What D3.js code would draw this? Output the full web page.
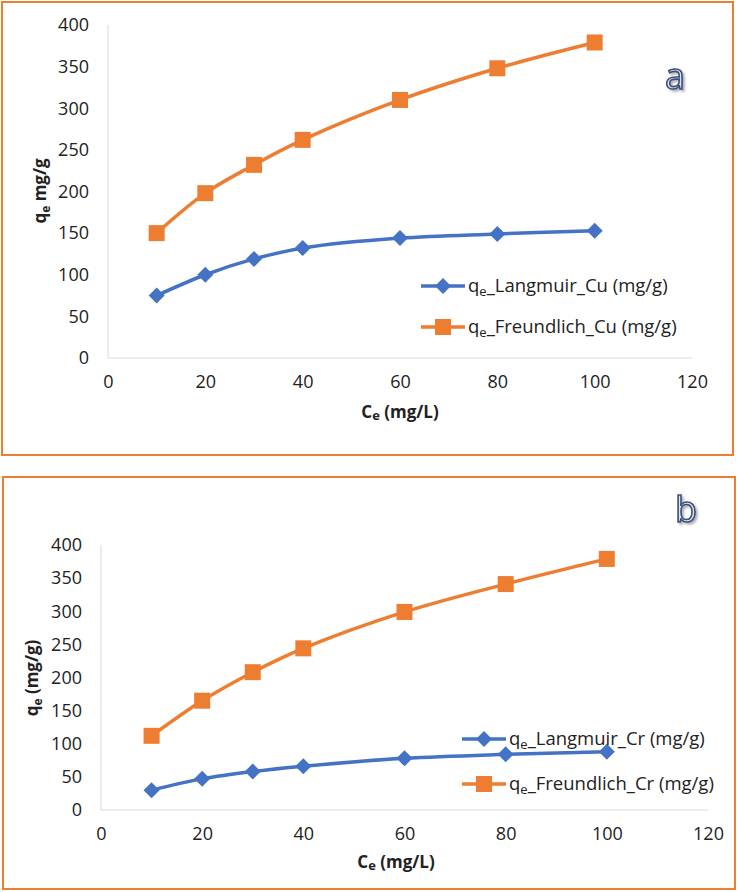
<!DOCTYPE html>
<html>
<head>
<meta charset="utf-8">
<script src="https://cdn.jsdelivr.net/npm/d3@7"></script>
<style>
  html, body { margin: 0; padding: 0; background: #fff; }
  svg { display: block; font-family: "Open Sans", "Noto Sans", sans-serif; }
</style>
</head>
<body>
<svg id="chart" width="738" height="892"></svg>
<script>
// ---- Data ----
const ceValues = [10, 20, 30, 40, 60, 80, 100];
const langmuirCu = [75, 100, 119, 132, 144, 149, 153];
const freundlichCu = [150, 198, 232, 262, 310, 348, 379];
const langmuirCr = [30, 47, 58, 66, 78, 84, 88];
const freundlichCr = [112, 165, 208, 244, 299, 341, 379];
const xTicks = [0, 20, 40, 60, 80, 100, 120];
const yTicks = [0, 50, 100, 150, 200, 250, 300, 350, 400];
const seriesNamesA = ["Langmuir_Cu (mg/g)", "Freundlich_Cu (mg/g)"];
const seriesNamesB = ["Langmuir_Cr (mg/g)", "Freundlich_Cr (mg/g)"];

const BLUE = "#4472C4", ORANGE = "#ED7D31";
const FONT = "'Open Sans', sans-serif";
const svg = d3.select("#chart");

const defs = svg.append("defs");
defs.append("filter").attr("id", "shadow").attr("x", "-30%").attr("y", "-30%")
  .attr("width", "160%").attr("height", "160%")
  .append("feDropShadow").attr("dx", 2).attr("dy", 2).attr("stdDeviation", 1.2)
  .attr("flood-color", "#808080").attr("flood-opacity", 0.6);

function drawPanel(cfg) {
  const g = svg.append("g");
  g.append("rect").attr("x", cfg.frame[0]).attr("y", cfg.frame[1])
    .attr("width", cfg.frame[2]).attr("height", cfg.frame[3])
    .attr("fill", "#fff").attr("stroke", ORANGE).attr("stroke-width", 2);

  const x = d3.scaleLinear().domain([0, 120]).range([cfg.plot.left, cfg.plot.right]);
  const y = d3.scaleLinear().domain([0, 400]).range([cfg.plot.bottom, cfg.plot.top]);

  g.append("line").attr("x1", x(0)).attr("x2", x(120)).attr("y1", y(0)).attr("y2", y(0))
    .attr("stroke", "#d9d9d9").attr("stroke-width", 1);
  g.append("line").attr("x1", x(0)).attr("x2", x(0)).attr("y1", y(0)).attr("y2", y(400))
    .attr("stroke", "#d9d9d9").attr("stroke-width", 1);

  const xAxis = g.append("g").attr("transform", `translate(0,${y(0)})`)
    .call(d3.axisBottom(x).tickValues(xTicks).tickSize(0).tickPadding(17));
  xAxis.select(".domain").remove();
  xAxis.attr("font-size", 18).attr("font-family", FONT);
  xAxis.selectAll("text").attr("fill", "#222");
  const yAxis = g.append("g").attr("transform", `translate(${x(0)},0)`)
    .call(d3.axisLeft(y).tickValues(yTicks).tickSize(0).tickPadding(19));
  yAxis.select(".domain").remove();
  yAxis.attr("font-size", 18).attr("font-family", FONT);
  yAxis.selectAll("text").attr("fill", "#222");

  const xt = g.append("text").attr("x", cfg.xTitle[0]).attr("y", cfg.xTitle[1])
    .attr("text-anchor", "middle").attr("font-weight", "bold").attr("font-size", 17).attr("fill", "#222");
  xt.append("tspan").text("C");
  xt.append("tspan").text("e").attr("font-size", 13).attr("dy", 2);
  xt.append("tspan").text(" (mg/L)").attr("dy", -2);

  const yt = g.append("text")
    .attr("transform", `translate(${cfg.yTitle[0]},${cfg.yTitle[1]}) rotate(-90)`)
    .attr("text-anchor", "middle").attr("font-weight", "bold").attr("font-size", 17).attr("fill", "#222");
  yt.append("tspan").text("q");
  yt.append("tspan").text("e").attr("font-size", 12).attr("dy", 4);
  yt.append("tspan").text(cfg.yTitleRest).attr("dy", -4);

  const line = d3.line().x(d => x(d[0])).y(d => y(d[1])).curve(d3.curveCatmullRom.alpha(0.5));
  const series = [
    { vals: cfg.langmuir, color: BLUE, marker: "diamond" },
    { vals: cfg.freundlich, color: ORANGE, marker: "square" }
  ];
  series.forEach(s => {
    const pts = ceValues.map((c, i) => [c, s.vals[i]]);
    g.append("path").datum(pts).attr("d", line).attr("fill", "none")
      .attr("stroke", s.color).attr("stroke-width", 3.5).attr("stroke-linejoin", "round");
    drawMarkers(g, pts.map(p => [x(p[0]), y(p[1])]), s.marker, s.color);
  });

  cfg.legendRows.forEach((ry, i) => {
    const s = series[i];
    const lx = cfg.legendX;
    g.append("line").attr("x1", lx).attr("x2", lx + 44).attr("y1", ry).attr("y2", ry)
      .attr("stroke", s.color).attr("stroke-width", 3.5);
    drawMarkers(g, [[lx + 22, ry]], s.marker, s.color);
    const t = g.append("text").attr("x", lx + 47).attr("y", ry).attr("dy", "0.35em")
      .attr("font-size", 18.5).attr("fill", "#222");
    t.append("tspan").text("q");
    t.append("tspan").text("e").attr("font-size", 13).attr("dy", 4);
    t.append("tspan").text("_" + cfg.names[i]).attr("dy", -4);
  });

  g.append("text").attr("x", cfg.letter[0]).attr("y", cfg.letter[1])
    .attr("font-size", 36).attr("fill", "#dae3f3").attr("stroke", "#3b4f78").attr("stroke-width", 1.6)
    .attr("filter", "url(#shadow)")
    .attr("font-family", FONT).text(cfg.letterText);
}

function drawMarkers(g, pts, type, color) {
  if (type === "diamond") {
    g.selectAll(null).data(pts).enter().append("path")
      .attr("d", d => `M${d[0]},${d[1] - 8}L${d[0] + 8},${d[1]}L${d[0]},${d[1] + 8}L${d[0] - 8},${d[1]}Z`)
      .attr("fill", color);
  } else {
    g.selectAll(null).data(pts).enter().append("rect")
      .attr("x", d => d[0] - 8).attr("y", d => d[1] - 8)
      .attr("width", 16).attr("height", 16).attr("fill", color);
  }
}

drawPanel({
  frame: [2, 2, 731, 453],
  plot: { left: 108, right: 692, top: 25, bottom: 358 },
  langmuir: langmuirCu, freundlich: freundlichCu,
  names: seriesNamesA,
  xTitle: [400, 418], yTitle: [46, 191], yTitleRest: " mg/g",
  legendX: 421, legendRows: [286, 327],
  letter: [665, 89], letterText: "a"
});

drawPanel({
  frame: [3, 477, 732, 412],
  plot: { left: 101, right: 708, top: 545, bottom: 810 },
  langmuir: langmuirCr, freundlich: freundlichCr,
  names: seriesNamesB,
  xTitle: [396, 868], yTitle: [38, 678], yTitleRest: " (mg/g)",
  legendX: 462, legendRows: [739, 784],
  letter: [675, 522], letterText: "b"
});
</script>
</body>
</html>
